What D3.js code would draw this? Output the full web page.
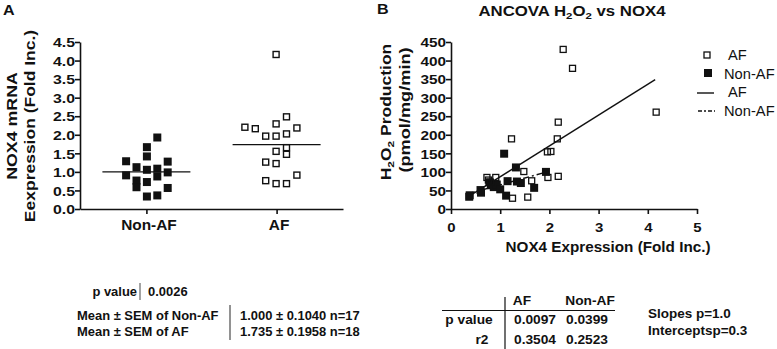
<!DOCTYPE html>
<html>
<head>
<meta charset="utf-8">
<script src="https://cdn.jsdelivr.net/npm/d3@7"></script>
<style>
  body { margin: 0; background: #fff; }
  svg { display: block; font-family: "Liberation Sans", Arial, sans-serif; }
</style>
</head>
<body>
<div id="chart"></div>
<script>
// ---- Panel A: NOX4 mRNA expression per group ----
const groups = ["Non-AF", "AF"];
const nonAfExpr = [1.94, 1.68, 1.43, 1.30, 1.29, 1.14, 1.07, 1.10, 0.92, 1.00, 0.78, 0.60, 0.74, 0.89, 0.58, 0.35, 0.38];
const nonAfSlot = [1, 0, 0, -2, 2, -1, 0, 1, -2, 2, -1, -1, 0, 1, 2, 0, 1];
const afExpr = [4.15, 2.47, 2.28, 2.19, 2.15, 2.17, 1.95, 1.95, 2.01, 1.54, 1.64, 1.46, 1.25, 1.21, 0.75, 0.67, 0.67, 0.90];
const afSlot = [0, 1, 0, -3, -2, 2, -1, 0, 1, 0, 1, 1, -1, 0, -1, 0, 1, 2];
const groupMeans = [1.000, 1.735];
const yTicksA = [0, 0.5, 1, 1.5, 2, 2.5, 3, 3.5, 4, 4.5];

// ---- Panel B: H2O2 production vs NOX4 expression ----
const afNox = [2.28, 2.47, 4.17, 2.18, 1.23, 2.16, 1.96, 2.03, 1.48, 2.18, 1.97, 0.73, 0.91, 1.64, 1.25, 1.56, 0.76, 0.80];
const afH2o2 = [430, 379, 261, 234, 189, 189, 154, 155, 101, 88, 85, 85, 85, 76, 29, 32, 78, 72];
const nonAfNox = [0.37, 0.38, 0.60, 0.61, 0.78, 0.81, 0.87, 0.93, 1.00, 1.12, 1.15, 1.08, 1.32, 1.34, 1.42, 1.69, 1.93];
const nonAfH2o2 = [33, 37, 51, 44, 72, 64, 59, 66, 53, 36, 75, 149, 112, 74, 70, 57, 100];
const afFit = { slope: 83, intercept: 4, from: 0.37, to: 4.15 };
const nonAfFit = { slope: 37, intercept: 28, from: 0.37, to: 1.93 };
const xTicksB = [0, 1, 2, 3, 4, 5];
const yTicksB = [0, 50, 100, 150, 200, 250, 300, 350, 400, 450];

// ---- Tables ----
const pValueA = "0.0026";
const summaryLabels = ["Mean \u00b1 SEM of Non-AF", "Mean \u00b1 SEM of AF"];
const summaryValues = ["1.000 \u00b1 0.1040 n=17", "1.735 \u00b1 0.1958 n=18"];
const tableCols = ["AF", "Non-AF"];
const tableRows = ["p value", "r2"];
const tableVals = [["0.0097", "0.0399"], ["0.3504", "0.2523"]];
const ancovaNotes = ["Slopes p=1.0", "Interceptsp=0.3"];

const W = 777, H = 349;
const svg = d3.select("#chart").append("svg").attr("width", W).attr("height", H);

// text helper: horizontal stretch via scale so the wide original lettering fits
function txt(g, s, x, y, o = {}) {
  const size = o.size || 12;
  const t = g.append("text")
    .attr("transform", `translate(${x},${y}) rotate(${o.rot || 0}) scale(${o.sx || 1},1)`)
    .attr("text-anchor", o.anchor || "start")
    .attr("font-size", size)
    .attr("font-weight", o.weight || "bold")
    .attr("fill", "#111");
  if (Array.isArray(s)) {
    // strings are plain runs, {sub: "..."} objects are subscripts
    let shift = 0;
    s.forEach(p => {
      if (typeof p === "object") {
        t.append("tspan").attr("font-size", size * 0.68).attr("dy", 3 - shift).text(p.sub);
        shift = 3;
      } else {
        t.append("tspan").attr("dy", -shift).text(p);
        shift = 0;
      }
    });
  } else t.text(s);
  return t;
}

function styleAxis(g) {
  g.select(".domain").attr("stroke", "#111").attr("stroke-width", 1.6);
  g.selectAll(".tick line").attr("stroke", "#111").attr("stroke-width", 1.6);
  g.selectAll(".tick text").attr("font-size", 13).attr("font-weight", "bold")
    .attr("fill", "#111").attr("font-family", "Liberation Sans, Arial, sans-serif");
}

// ================= Panel A =================
const yA = d3.scaleLinear().domain([0, 4.5]).range([209, 42]);
const xA = d3.scalePoint().domain(groups).range([80, 343]).padding(0.51);
const slot = d3.scaleLinear().domain([0, 1]).range([0, 10.4]);

const gA = svg.append("g");
txt(gA, "A", 3, 15, { size: 14, sx: 1.15 });

const axYA = gA.append("g").attr("transform", "translate(80,0)")
  .call(d3.axisLeft(yA).tickValues(yTicksA).tickFormat(d3.format(".1f")).tickSize(5).tickSizeOuter(0));
styleAxis(axYA);
axYA.selectAll(".tick text").attr("x", 0).attr("dy", "0.36em")
  .attr("transform", "translate(-5,0) scale(1.22,1)");

const axXA = gA.append("g").attr("transform", "translate(0,209)")
  .call(d3.axisBottom(xA).tickSize(5).tickSizeOuter(0));
styleAxis(axXA);
axXA.selectAll(".tick text").attr("y", 0).attr("dy", 0)
  .attr("transform", "translate(2,21) scale(1.1,1)").attr("font-size", 14);

txt(gA, "NOX4 mRNA", 17, 126, { rot: -90, anchor: "middle", size: 14, sx: 1.27 });
txt(gA, "Eexpression (Fold Inc.)", 35, 126, { rot: -90, anchor: "middle", size: 14, sx: 1.25 });

const sq = 7;
const ptsA = [
  ...nonAfExpr.map((v, i) => ({ g: "Non-AF", v, s: nonAfSlot[i] })),
  ...afExpr.map((v, i) => ({ g: "AF", v, s: afSlot[i] }))
];
gA.selectAll("rect.pt").data(ptsA).join("rect").attr("class", "pt")
  .attr("x", d => xA(d.g) + slot(d.s) - sq / 2)
  .attr("y", d => yA(d.v) - sq / 2)
  .attr("width", d => d.g === "AF" ? sq - 1 : sq + 1)
  .attr("height", d => d.g === "AF" ? sq - 1 : sq + 1)
  .attr("fill", d => d.g === "AF" ? "#fff" : "#111")
  .attr("stroke", "#111")
  .attr("stroke-width", d => d.g === "AF" ? 1.4 : 0);

gA.selectAll("line.mean").data(groups).join("line").attr("class", "mean")
  .attr("x1", d => xA(d) - 44).attr("x2", d => xA(d) + 44)
  .attr("y1", (d, i) => yA(groupMeans[i])).attr("y2", (d, i) => yA(groupMeans[i]))
  .attr("stroke", "#111").attr("stroke-width", 1.4);

// table A
txt(gA, "p value", 137, 296, { anchor: "end", size: 12, sx: 1.08 });
gA.append("line").attr("x1", 140).attr("x2", 140).attr("y1", 283).attr("y2", 300)
  .attr("stroke", "#666").attr("stroke-width", 1.2);
txt(gA, pValueA, 148, 296, { size: 12, sx: 1.08 });
summaryLabels.forEach((s, i) => txt(gA, s, 77, 320 + i * 16, { size: 12, sx: 1.08 }));
summaryValues.forEach((s, i) => txt(gA, s, 240, 320 + i * 16, { size: 12, sx: 1.08 }));
gA.append("line").attr("x1", 230).attr("x2", 230).attr("y1", 305).attr("y2", 340)
  .attr("stroke", "#777").attr("stroke-width", 1.6);

// ================= Panel B =================
const xB = d3.scaleLinear().domain([0, 5]).range([451, 697]);
const yB = d3.scaleLinear().domain([0, 450]).range([209, 42]);

const gB = svg.append("g");
txt(gB, "B", 377, 14, { size: 14, sx: 1.15 });
txt(gB, ["ANCOVA H", { sub: "2" }, "O", { sub: "2" }, " vs NOX4"], 572, 16, { anchor: "middle", size: 14, sx: 1.2 });

const axYB = gB.append("g").attr("transform", "translate(451,0)")
  .call(d3.axisLeft(yB).tickValues(yTicksB).tickFormat(d3.format("d")).tickSize(5).tickSizeOuter(0));
styleAxis(axYB);
axYB.selectAll(".tick text").attr("x", 0).attr("dy", "0.36em")
  .attr("transform", "translate(-5,0) scale(1.18,1)");

const axXB = gB.append("g").attr("transform", "translate(0,209)")
  .call(d3.axisBottom(xB).tickValues(xTicksB).tickFormat(d3.format("d")).tickSize(5).tickSizeOuter(0));
styleAxis(axXB);
axXB.selectAll(".tick text").attr("y", 0).attr("dy", 0)
  .attr("transform", "translate(0,23) scale(1.15,1)");

txt(gB, ["H", { sub: "2" }, "O", { sub: "2" }, " Production"], 391, 112, { rot: -90, anchor: "middle", size: 14, sx: 1.25 });
txt(gB, "(pmol/mg/min)", 410, 110, { rot: -90, anchor: "middle", size: 14, sx: 1.3 });
txt(gB, "NOX4 Expression (Fold Inc.)", 608, 252, { anchor: "middle", size: 14, sx: 1.09 });

// regression lines
const fitLine = f => [[f.from, f.intercept + f.slope * f.from], [f.to, f.intercept + f.slope * f.to]];
const line = d3.line().x(d => xB(d[0])).y(d => yB(d[1]));
gB.append("path").attr("d", line(fitLine(afFit))).attr("stroke", "#111").attr("stroke-width", 1.4).attr("fill", "none");
gB.append("path").attr("d", line(fitLine(nonAfFit))).attr("stroke", "#111").attr("stroke-width", 1.4)
  .attr("stroke-dasharray", "6,3,2,3").attr("fill", "none");

gB.selectAll("rect.na").data(nonAfNox).join("rect").attr("class", "na")
  .attr("x", d => xB(d) - 4).attr("y", (d, i) => yB(nonAfH2o2[i]) - 4)
  .attr("width", 8).attr("height", 8).attr("fill", "#111");
gB.selectAll("rect.af").data(afNox).join("rect").attr("class", "af")
  .attr("x", d => xB(d) - 3).attr("y", (d, i) => yB(afH2o2[i]) - 3)
  .attr("width", 6).attr("height", 6).attr("fill", "none").attr("stroke", "#111").attr("stroke-width", 1.3);

// legend
const lg = gB.append("g");
lg.append("rect").attr("x", 704).attr("y", 52).attr("width", 6).attr("height", 6)
  .attr("fill", "#fff").attr("stroke", "#111").attr("stroke-width", 1.3);
lg.append("rect").attr("x", 704).attr("y", 69).attr("width", 8).attr("height", 8).attr("fill", "#111");
lg.append("line").attr("x1", 697).attr("x2", 714).attr("y1", 93).attr("y2", 93).attr("stroke", "#111").attr("stroke-width", 1.4);
lg.append("line").attr("x1", 698).attr("x2", 715).attr("y1", 111).attr("y2", 111).attr("stroke", "#111")
  .attr("stroke-width", 1.4).attr("stroke-dasharray", "4,2,2,2");
["AF", "Non-AF", "AF", "Non-AF"].forEach((s, i) =>
  txt(lg, s, i % 2 ? 724 : 728, 60 + i * 18.5, { size: 14, weight: "normal", sx: 1.05 }));

// table B
tableCols.forEach((c, j) => txt(gB, c, [522, 590][j], 305, { anchor: "middle", size: 12.5, sx: 1.1 }));
tableRows.forEach((r, i) => {
  txt(gB, r, 469 + (i ? 13 : 0), 324 + i * 20, { anchor: "middle", size: 12.5, sx: 1.1 });
  tableVals[i].forEach((v, j) => txt(gB, v, [535, 587][j], 324 + i * 20, { anchor: "middle", size: 12.5, sx: 1.1 }));
});
gB.append("line").attr("x1", 442).attr("x2", 615).attr("y1", 310.5).attr("y2", 310.5).attr("stroke", "#111").attr("stroke-width", 1.2);
gB.append("line").attr("x1", 505).attr("x2", 505).attr("y1", 297).attr("y2", 349).attr("stroke", "#111").attr("stroke-width", 1.2);
ancovaNotes.forEach((s, i) => txt(gB, s, 648, 318 + i * 17, { size: 12.5, sx: 1.08 }));
</script>
</body>
</html>
